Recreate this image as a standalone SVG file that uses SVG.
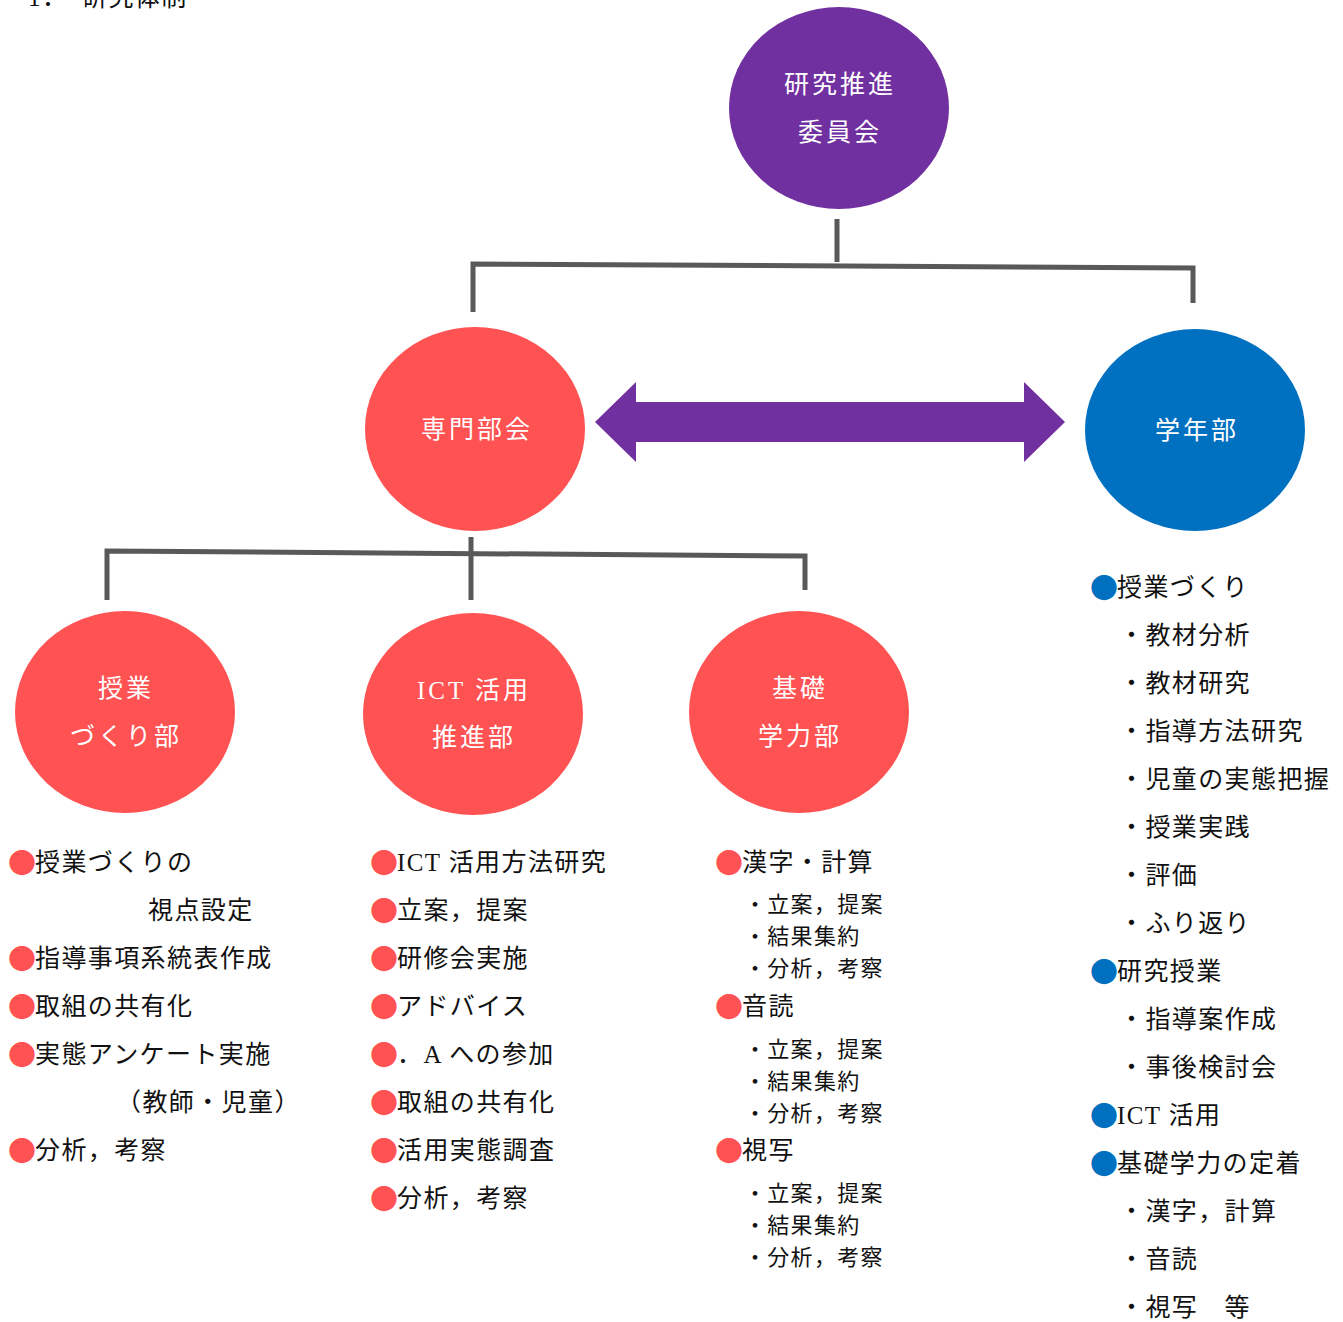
<svg xmlns="http://www.w3.org/2000/svg" width="1343" height="1322" viewBox="0 0 1343 1322">
<style>
.t{font-family:"Liberation Serif","Noto Sans CJK JP",serif;font-size:25px;fill:#111;letter-spacing:1.4px}
.s{font-family:"Liberation Serif","Noto Sans CJK JP",serif;font-size:22px;fill:#111;letter-spacing:1.3px}
.n{font-family:"Liberation Serif","Noto Sans CJK JP",serif;font-size:25px;fill:#fff;letter-spacing:3px;text-anchor:middle}
.r,.b{font-family:"Noto Sans CJK JP",sans-serif;font-size:28px;letter-spacing:-1px}
.r{fill:#FF5252}
.b{fill:#0070C0}
.ln{fill:none;stroke:#595959;stroke-width:5}
</style>
<rect width="1343" height="1322" fill="#fff"/>
<g id="title"><text class="t" x="28" y="6">1．</text><text class="t" x="82" y="6">研究体制</text></g>
<g id="connectors">
<line class="ln" x1="837" y1="219" x2="837" y2="262"/>
<polyline class="ln" points="473,312 473,264 1193,268 1193,303"/>
<polyline class="ln" points="107,600 107,551 805,556 805,590"/>
<line class="ln" x1="471" y1="537" x2="471" y2="600"/>
<polygon fill="#7030A0" points="595,422 636,382 636,402 1024,402 1024,382 1065,422 1024,462 1024,442 636,442 636,462"/>
</g>
<g id="node-committee"><ellipse cx="839" cy="108" rx="110" ry="101" fill="#7030A0"/><text class="n" x="840" y="93">研究推進</text><text class="n" x="840" y="141">委員会</text></g>
<g id="node-senmon"><ellipse cx="475" cy="429" rx="110" ry="102" fill="#FF5252"/><text class="n" x="477" y="438">専門部会</text></g>
<g id="node-gakunen"><ellipse cx="1195" cy="430" rx="110" ry="101" fill="#0070C0"/><text class="n" x="1197" y="439">学年部</text></g>
<g id="node-jugyo"><ellipse cx="125" cy="712" rx="110" ry="101" fill="#FF5252"/><text class="n" x="126" y="697">授業</text><text class="n" x="126" y="745">づくり部</text></g>
<g id="node-ict"><ellipse cx="473" cy="714" rx="110" ry="101" fill="#FF5252"/><text class="n" x="474" y="699">ICT 活用</text><text class="n" x="474" y="746">推進部</text></g>
<g id="node-kiso"><ellipse cx="799" cy="712" rx="110" ry="101" fill="#FF5252"/><text class="n" x="800" y="697">基礎</text><text class="n" x="800" y="745">学力部</text></g>
<g id="list-jugyo">
<text class="t" x="8" y="871"><tspan class="r" dy="3">●</tspan><tspan dy="-3">授業づくりの</tspan></text>
<text class="t" x="148" y="919">視点設定</text>
<text class="t" x="8" y="967"><tspan class="r" dy="3">●</tspan><tspan dy="-3">指導事項系統表作成</tspan></text>
<text class="t" x="8" y="1015"><tspan class="r" dy="3">●</tspan><tspan dy="-3">取組の共有化</tspan></text>
<text class="t" x="8" y="1063"><tspan class="r" dy="3">●</tspan><tspan dy="-3">実態アンケート実施</tspan></text>
<text class="t" x="116" y="1111">（教師・児童）</text>
<text class="t" x="8" y="1159"><tspan class="r" dy="3">●</tspan><tspan dy="-3">分析，考察</tspan></text>
</g>
<g id="list-ict">
<text class="t" x="370" y="871"><tspan class="r" dy="3">●</tspan><tspan dy="-3">ICT 活用方法研究</tspan></text>
<text class="t" x="370" y="919"><tspan class="r" dy="3">●</tspan><tspan dy="-3">立案，提案</tspan></text>
<text class="t" x="370" y="967"><tspan class="r" dy="3">●</tspan><tspan dy="-3">研修会実施</tspan></text>
<text class="t" x="370" y="1015"><tspan class="r" dy="3">●</tspan><tspan dy="-3">アドバイス</tspan></text>
<text class="t" x="370" y="1063"><tspan class="r" dy="3">●</tspan><tspan dy="-3">．A への参加</tspan></text>
<text class="t" x="370" y="1111"><tspan class="r" dy="3">●</tspan><tspan dy="-3">取組の共有化</tspan></text>
<text class="t" x="370" y="1159"><tspan class="r" dy="3">●</tspan><tspan dy="-3">活用実態調査</tspan></text>
<text class="t" x="370" y="1207"><tspan class="r" dy="3">●</tspan><tspan dy="-3">分析，考察</tspan></text>
</g>
<g id="list-kiso">
<text class="t" x="715" y="871"><tspan class="r" dy="3">●</tspan><tspan dy="-3">漢字・計算</tspan></text>
<text class="s" x="744" y="912">・立案，提案</text>
<text class="s" x="744" y="944">・結果集約</text>
<text class="s" x="744" y="976">・分析，考察</text>
<text class="t" x="715" y="1015"><tspan class="r" dy="3">●</tspan><tspan dy="-3">音読</tspan></text>
<text class="s" x="744" y="1057">・立案，提案</text>
<text class="s" x="744" y="1089">・結果集約</text>
<text class="s" x="744" y="1121">・分析，考察</text>
<text class="t" x="715" y="1159"><tspan class="r" dy="3">●</tspan><tspan dy="-3">視写</tspan></text>
<text class="s" x="744" y="1201">・立案，提案</text>
<text class="s" x="744" y="1233">・結果集約</text>
<text class="s" x="744" y="1265">・分析，考察</text>
</g>
<g id="list-gakunen">
<text class="t" x="1090" y="596"><tspan class="b" dy="3">●</tspan><tspan dy="-3">授業づくり</tspan></text>
<text class="t" x="1119" y="644">・教材分析</text>
<text class="t" x="1119" y="692">・教材研究</text>
<text class="t" x="1119" y="740">・指導方法研究</text>
<text class="t" x="1119" y="788">・児童の実態把握</text>
<text class="t" x="1119" y="836">・授業実践</text>
<text class="t" x="1119" y="884">・評価</text>
<text class="t" x="1119" y="932">・ふり返り</text>
<text class="t" x="1090" y="980"><tspan class="b" dy="3">●</tspan><tspan dy="-3">研究授業</tspan></text>
<text class="t" x="1119" y="1028">・指導案作成</text>
<text class="t" x="1119" y="1076">・事後検討会</text>
<text class="t" x="1090" y="1124"><tspan class="b" dy="3">●</tspan><tspan dy="-3">ICT 活用</tspan></text>
<text class="t" x="1090" y="1172"><tspan class="b" dy="3">●</tspan><tspan dy="-3">基礎学力の定着</tspan></text>
<text class="t" x="1119" y="1220">・漢字，計算</text>
<text class="t" x="1119" y="1268">・音読</text>
<text class="t" x="1119" y="1316">・視写　等</text>
</g>
</svg>
